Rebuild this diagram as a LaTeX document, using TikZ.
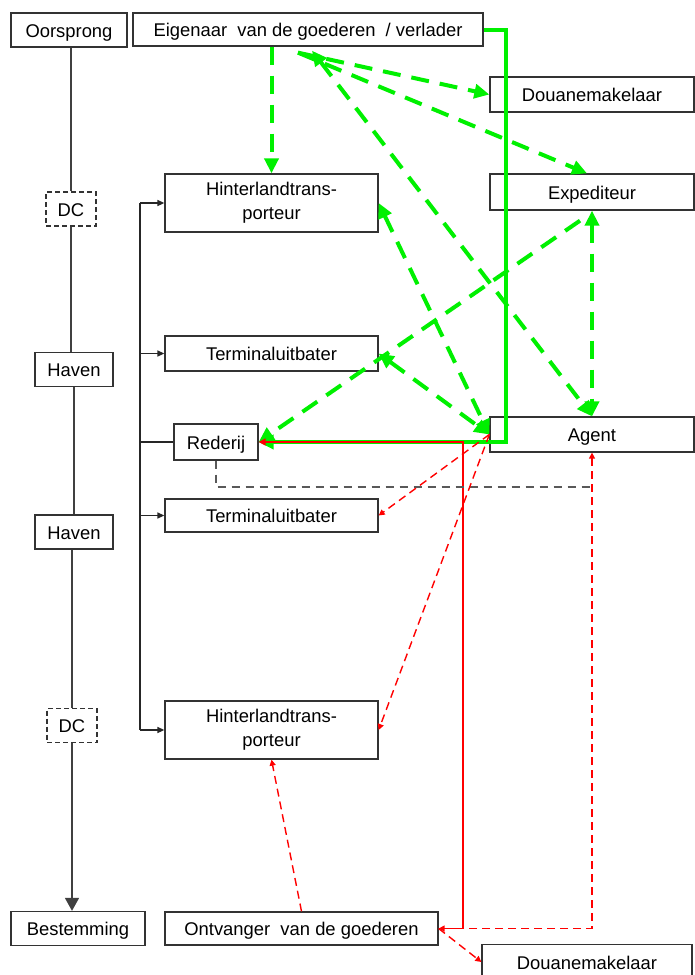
\documentclass[tikz,border=0pt]{standalone}
\usepackage{fontspec}
\setmainfont{Liberation Sans}
\usepackage{tikz}
\usetikzlibrary{arrows.meta, calc, shapes}
\definecolor{goodgreen}{RGB}{0,240,0}
\tikzstyle{twoline} = [rectangle, draw=black!80, line width=0.65pt, inner sep=0pt, minimum height=29pt, minimum width=106.5pt, text centered, align=center, font=\fontsize{9.2}{12}\selectfont]
\tikzstyle{actor} = [rectangle, draw=black!80, line width=0.65pt, inner sep=0pt, minimum height=17.5pt, text height=0.72em, text depth=0pt, text centered, font=\fontsize{9.2}{12}\selectfont]
\tikzstyle{place} = [actor, minimum height=17pt]
\tikzstyle{dcbox} = [place, minimum width=25pt, dash pattern=on 2.5pt off 1.5pt]
\tikzstyle{chain} = [draw=black!75, line width=0.8pt, >={Triangle[length=6.5pt,width=7pt]}]
\tikzstyle{branch} = [draw=black!85, line width=0.75pt, >={Triangle[length=3.5pt,width=3pt]}]
\tikzstyle{greendash} = [draw=goodgreen, line width=2pt, dash pattern=on 9pt off 5.5pt, >={Triangle[length=7.5pt,width=7pt]}]
\tikzstyle{greenline} = [draw=goodgreen, line width=2pt, >={Triangle[length=7.5pt,width=7pt]}]
\tikzstyle{redline} = [draw=red, line width=0.8pt, >={Triangle[length=3.5pt,width=3.5pt]}]
\tikzstyle{reddash} = [draw=red, line width=0.7pt, dash pattern=on 4pt off 2.5pt, >={Triangle[length=3pt,width=3pt]}]
\tikzstyle{graydash} = [draw=black!65, line width=0.75pt, dash pattern=on 4pt off 3pt]

\begin{document}
\begin{tikzpicture}[x=0.5pt, y=-0.5pt]
        \useasboundingbox (0,0) rectangle (695,975);
        \fill [white] (0,0) rectangle (695,975);

        \node (oorsprong) [place, minimum width=58pt] at (69,30) {Oorsprong};
        \node (eigenaar) [actor, minimum width=175pt, minimum height=16.5pt] at (308,29.5) {Eigenaar\ \ van de goederen\ \ / verlader};
        \node (douane) [actor, minimum width=102pt] at (592,94.5) {Douanemakelaar};
        \node (expediteur) [actor, minimum width=102pt, minimum height=18pt] at (592,192) {Expediteur};
        \node (hinterland) [twoline] at (271.5,203) {Hinterlandtrans-\\porteur};
        \node (dc) [dcbox] at (71,209) {DC};
        \node (terminal) [actor, minimum width=106.5pt] at (271.5,353.5) {Terminaluitbater};
        \node (haven) [place, minimum width=39pt] at (74,369.5) {Haven};
        \node (rederij) [actor, minimum width=42pt, minimum height=18pt] at (216,442) {Rederij};
        \node (agent) [actor, minimum width=102pt] at (592,434.5) {Agent};
        \node (terminal2) [actor, minimum width=106.5pt, minimum height=16.5pt] at (271.5,515.5) {Terminaluitbater};
        \node (haven2) [place, minimum width=39pt] at (74,532) {Haven};
        \node (dc2) [dcbox] at (72,725.5) {DC};
        \node (hinterland2) [twoline] at (271.5,730) {Hinterlandtrans-\\porteur};
        \node (bestemming) [place, minimum width=67pt] at (78,928.5) {Bestemming};
        \node (ontvanger) [actor, minimum width=136.5pt, minimum height=16.5pt] at (301.5,928.5) {Ontvanger\ \ van de goederen};
        \node (douane2) [actor, minimum width=105pt] at (587,962) {Douanemakelaar};

        \coordinate (spinetop) at (140,203);
        \coordinate (spinebot) at (140,730);
        \coordinate (greenbend) at (506,442);
        \coordinate (redbend) at (463,442);
        \coordinate (graybend) at (592,487);

        \draw [chain] (dc.north |- oorsprong.south) -- (dc.north);
        \draw [chain] (dc.south) -- (dc.south |- haven.north);
        \draw [chain] (haven.south) -- (haven2.north);
        \draw [chain] (haven2.south -| dc2.north) -- (dc2.north);
        \draw [chain, ->] (dc2.south) -- (dc2.south |- bestemming.north);

        \draw [branch] (spinetop) -- (spinebot);
        \draw [branch, ->] (spinetop) -- (hinterland.west);
        \draw [branch, ->] (spinetop |- terminal.west) -- (terminal.west);
        \draw [branch] (spinetop |- rederij.west) -- (rederij.west);
        \draw [branch, ->] (spinetop |- terminal2.west) -- (terminal2.west);
        \draw [branch, ->] (spinebot) -- (hinterland2.west);

        \draw [greendash, ->] (hinterland.north |- eigenaar.south) -- (hinterland.north);
        \draw [greendash, ->] ($(eigenaar.south)+(-10,6)$) -- (douane.west);
        \draw [greendash, ->] ($(eigenaar.south)+(-10,6)$) -- ($(expediteur.north)+(-5,0)$);
        \draw [greendash, <->] ($(eigenaar.south)+(4,4)$) -- (agent.north);
        \draw [greendash, <->] (hinterland.east) -- (agent.west);
        \draw [greendash, <->] (terminal.east) -- (agent.west);
        \draw [greendash, ->] ($(expediteur.south)+(-12,10)$) -- (rederij.east);
        \draw [greendash, <->] (expediteur.south) -- (agent.north);

        \draw [greenline, ->] (eigenaar.east) -| (greenbend) -- (rederij.east);
        \draw [redline, ->] (ontvanger.east) -| (redbend) -- (rederij.east);

        \draw [graydash] (rederij.south) |- (graybend);

        \draw [reddash, <->] (agent.south) |- (ontvanger.east);
        \draw [reddash, ->] (agent.west) -- (terminal2.east);
        \draw [reddash, ->] (agent.west) -- (hinterland2.east);
        \draw [reddash, ->] (ontvanger.north) -- (hinterland2.south);
        \draw [reddash, ->] (ontvanger.east) -- (douane2.west);

\end{tikzpicture}
\end{document}
